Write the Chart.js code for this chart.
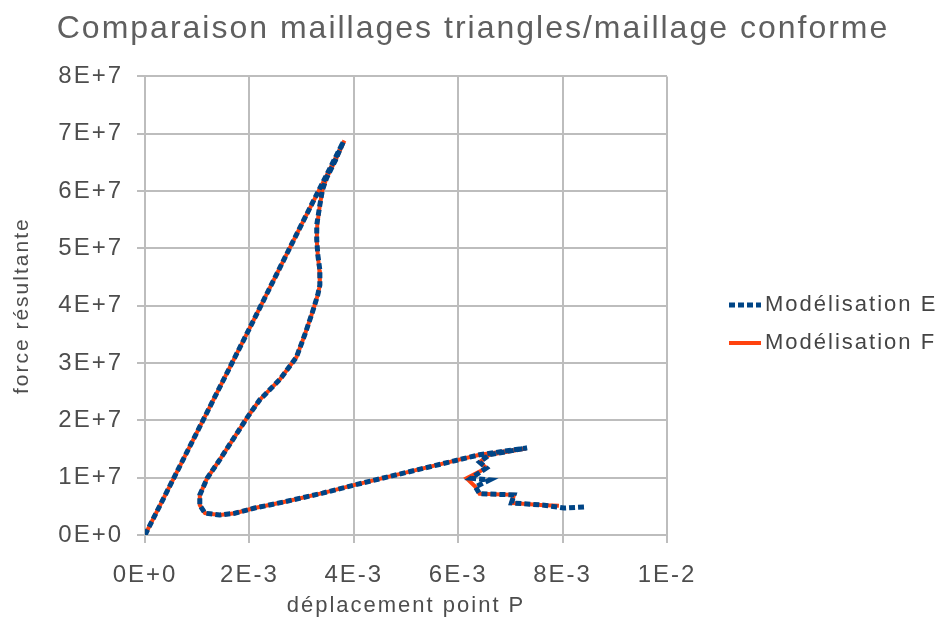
<!DOCTYPE html>
<html>
<head>
<meta charset="utf-8">
<title>Comparaison maillages</title>
<script src="https://cdn.jsdelivr.net/npm/chart.js@4.4.1/dist/chart.umd.min.js"></script>
<style>
  body { margin: 0; background: #fff; }
  #wrap { width: 946px; height: 628px; }
</style>
</head>
<body>
<div id="wrap"><canvas id="courbe" width="946" height="628"></canvas></div>
<script>
// déplacement (m) / force (N)
var dispE = [0, 0.001, 0.002, 0.003, 0.0038,
  0.00365, 0.00348, 0.0034, 0.00335, 0.00329, 0.00329, 0.00331, 0.00335, 0.00335, 0.00331,
  0.00325, 0.00319, 0.00306, 0.00290, 0.00258, 0.0022, 0.00195, 0.00168, 0.00143, 0.00119,
  0.00105, 0.00105, 0.00115, 0.00143, 0.00172, 0.0021, 0.00268, 0.0034, 0.004, 0.006,
  0.00641, 0.00732, 0.0066, 0.00641, 0.00654, 0.00625, 0.0066, 0.00633, 0.00641, 0.00707,
  0.00702, 0.00765, 0.00803, 0.00841];
var forceE = [0, 1.8e7, 3.6e7, 5.42e7, 6.86e7,
  6.54e7, 6.23e7, 6.02e7, 5.76e7, 5.41e7, 5.15e7, 4.89e7, 4.62e7, 4.36e7, 4.19e7,
  4.01e7, 3.84e7, 3.49e7, 3.1e7, 2.71e7, 2.36e7, 2.04e7, 1.66e7, 1.31e7, 0.99e7,
  0.7e7, 0.52e7, 0.38e7, 0.35e7, 0.38e7, 0.47e7, 0.58e7, 0.73e7, 0.87e7, 1.31e7,
  1.4e7, 1.52e7, 1.4e7, 1.27e7, 1.17e7, 0.99e7, 0.96e7, 0.84e7, 0.72e7, 0.7e7,
  0.56e7, 0.52e7, 0.47e7, 0.49e7];

var dispF = [0, 0.001, 0.002, 0.003, 0.00382,
  0.00365, 0.00348, 0.0034, 0.00335, 0.0033, 0.00329, 0.00331, 0.00334, 0.00335, 0.00331,
  0.00325, 0.00319, 0.00306, 0.0029, 0.00258, 0.0022, 0.00195, 0.00168, 0.00143, 0.00119,
  0.00105, 0.00105, 0.00115, 0.00143, 0.00172, 0.0021, 0.00268, 0.0034, 0.004, 0.006,
  0.00641, 0.0073, 0.0066, 0.00641, 0.00654, 0.00616, 0.00633, 0.00641, 0.00707,
  0.00702, 0.00765, 0.00793];
var forceF = [0, 1.8e7, 3.6e7, 5.42e7, 6.88e7,
  6.54e7, 6.23e7, 6.02e7, 5.76e7, 5.41e7, 5.15e7, 4.89e7, 4.62e7, 4.36e7, 4.19e7,
  4.01e7, 3.84e7, 3.49e7, 3.1e7, 2.71e7, 2.36e7, 2.04e7, 1.66e7, 1.31e7, 0.99e7,
  0.7e7, 0.52e7, 0.38e7, 0.35e7, 0.38e7, 0.47e7, 0.58e7, 0.73e7, 0.87e7, 1.31e7,
  1.4e7, 1.51e7, 1.4e7, 1.27e7, 1.17e7, 0.99e7, 0.84e7, 0.72e7, 0.7e7,
  0.56e7, 0.52e7, 0.51e7];

var xTicks = ['0E+0', '2E-3', '4E-3', '6E-3', '8E-3', '1E-2'];
var yTicks = ['0E+0', '1E+7', '2E+7', '3E+7', '4E+7', '5E+7', '6E+7', '7E+7', '8E+7'];

function points(xs, ys) {
    var pts = [];
    for (var i = 0; i < xs.length; i++) {
        pts.push({ x: xs[i], y: ys[i] });
    }
    return pts;
}

var police = '"Liberation Sans", Arial, sans-serif';
var gris = '#bdbdbd';

// espacement des lettres comme dans l'export LibreOffice
var espacement = {
    id: 'espacement',
    beforeUpdate: function (c) { c.ctx.letterSpacing = '2px'; },
    beforeDraw: function (c) { c.ctx.letterSpacing = '2px'; }
};

// légende à droite, dessinée à la main
var legende = {
    id: 'legende',
    afterDraw: function (c) {
        var ctx = c.ctx;
        ctx.save();
        ctx.font = '22px ' + police;
        ctx.fillStyle = '#444';
        ctx.textBaseline = 'middle';
        c.data.datasets.forEach(function (ds, i) {
            var y = 305 + i * 38;
            ctx.strokeStyle = ds.borderColor;
            ctx.lineWidth = ds.borderWidth;
            ctx.setLineDash(ds.borderDash || []);
            ctx.beginPath();
            ctx.moveTo(729, y);
            ctx.lineTo(761, y);
            ctx.stroke();
            ctx.setLineDash([]);
            ctx.fillText(ds.label, 765, y);
        });
        ctx.restore();
    }
};

new Chart(document.getElementById('courbe'), {
    type: 'scatter',
    data: {
        datasets: [{
            label: 'Modélisation E',
            data: points(dispE, forceE),
            showLine: true,
            borderColor: '#004586',
            borderWidth: 5,
            borderDash: [6, 3],
            pointRadius: 0,
            tension: 0
        }, {
            label: 'Modélisation F',
            data: points(dispF, forceF),
            showLine: true,
            borderColor: '#ff420e',
            borderWidth: 4,
            pointRadius: 0,
            tension: 0
        }]
    },
    options: {
        responsive: false,
        animation: false,
        plugins: {
            legend: { display: false },
            tooltip: { enabled: false },
            title: {
                display: true,
                text: 'Comparaison maillages triangles/maillage conforme',
                color: '#5f5f5f',
                font: { family: police, size: 32, weight: 'normal' },
                padding: { top: 10, bottom: 28 }
            }
        },
        scales: {
            x: {
                type: 'linear',
                min: 0,
                max: 0.01,
                ticks: {
                    stepSize: 0.002,
                    padding: 18,
                    color: '#4d4d4d',
                    font: { family: police, size: 24 },
                    callback: function (v, i) { return xTicks[i]; }
                },
                grid: { color: gris, lineWidth: 2, tickLength: 8 },
                border: { color: gris, width: 2 },
                title: {
                    display: true,
                    text: 'déplacement point P',
                    color: '#4d4d4d',
                    font: { family: police, size: 22 },
                    padding: { top: 2, bottom: 9 }
                },
                afterFit: function (s) { s.height = 93; }
            },
            y: {
                type: 'linear',
                min: 0,
                max: 8e7,
                ticks: {
                    stepSize: 1e7,
                    padding: 14,
                    color: '#4d4d4d',
                    font: { family: police, size: 24 },
                    callback: function (v, i) { return yTicks[i]; }
                },
                grid: { color: gris, lineWidth: 2, tickLength: 8 },
                border: { color: gris, width: 2 },
                title: {
                    display: true,
                    text: 'force résultante',
                    color: '#4d4d4d',
                    font: { family: police, size: 21 },
                    padding: { top: 10, bottom: 10 }
                },
                afterFit: function (s) { s.width = 145; }
            },
            // place réservée à la légende
            marge: {
                type: 'linear',
                position: 'right',
                min: 0,
                max: 1,
                grid: { display: false },
                border: { display: false },
                ticks: { display: false },
                afterFit: function (s) { s.width = 279; }
            }
        }
    },
    plugins: [espacement, legende]
});
</script>
</body>
</html>
